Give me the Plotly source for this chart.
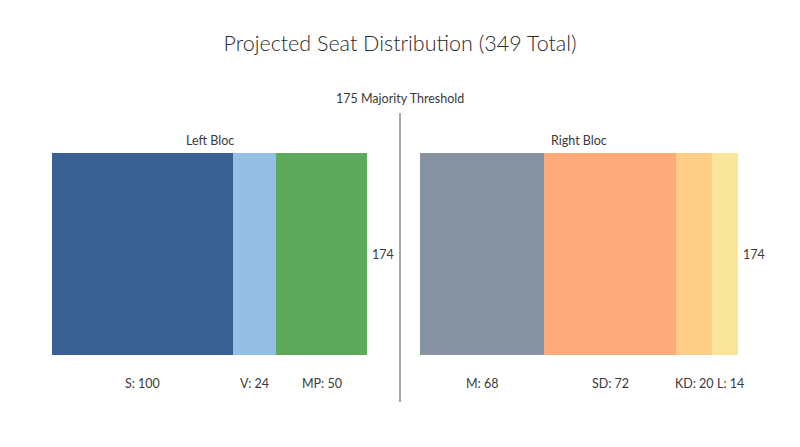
import plotly.graph_objects as go

W, H = 800, 447
OFF = 8  # page body margin added by write_html

left_parties = ["S", "V", "MP"]
left_seats = [100, 24, 50]
left_colors = ["#395f93", "#95c0e4", "#5ea95c"]

right_parties = ["M", "SD", "KD", "L"]
right_seats = [68, 72, 20, 14]
right_colors = ["#8792a3", "#fdaa7a", "#fecd86", "#f9e69b"]

majority = 175
total = 349
font = "Lato"
txt_color = "#3a3a3a"


def px_x(p):
    return (p - OFF) / W


def px_y(p):
    return 1 - (p - OFF) / H


def txt(size=12, color=txt_color, weight=400):
    return dict(size=size, color=color, family=font, weight=weight)


fig = go.Figure()


def add_bloc(parties, seats, colors, xaxis):
    base = 0
    for i, (name, val, col) in enumerate(zip(parties, seats, colors)):
        fig.add_trace(go.Bar(
            x=[base + val / 2], y=[sum(seats)], width=[val],
            marker=dict(color=col, line=dict(width=0)),
            xaxis=xaxis, yaxis="y", hoverinfo="skip", showlegend=False,
        ))
        # nudge the last, narrow label so it doesn't touch its neighbour
        shift = 5 if (i == len(seats) - 1 and val < 20) else 0
        fig.add_annotation(
            x=base + val / 2, y=px_y(383), xref=xaxis, yref="paper",
            xanchor="center", yanchor="middle", xshift=shift,
            text=f"{name}: {val}", showarrow=False, font=txt(12.5),
        )
        base += val
    # total label to the right
    fig.add_annotation(
        x=base, y=sum(seats) / 2, xref=xaxis, yref="y",
        text=str(sum(seats)), showarrow=False, xanchor="left", yanchor="middle",
        xshift=3, font=txt(12.5),
    )
    return base


add_bloc(left_parties, left_seats, left_colors, "x")
add_bloc(right_parties, right_seats, right_colors, "x2")

ax = dict(showgrid=False, zeroline=False, showticklabels=False, fixedrange=True)
fig.update_layout(
    width=W, height=H,
    margin=dict(l=0, r=0, t=0, b=0),
    paper_bgcolor="white", plot_bgcolor="white",
    barmode="overlay", bargap=0,
    font=dict(family=font, color=txt_color),
    title=dict(text=f"Projected Seat Distribution ({total} Total)",
               x=px_x(400), xanchor="center", y=px_y(43), yanchor="middle",
               font=txt(21.5, "#2a2a2a", 300)),
    xaxis=dict(domain=[px_x(52), px_x(367)], range=[0, sum(left_seats)], **ax),
    xaxis2=dict(domain=[px_x(420), px_x(738)], range=[0, sum(right_seats)], anchor="y", **ax),
    yaxis=dict(domain=[px_y(355), px_y(153)], range=[0, sum(left_seats)], **ax),
)

for label, cx in [("Left Bloc", 209.5), ("Right Bloc", 579)]:
    fig.add_annotation(x=px_x(cx), y=px_y(140), xref="paper", yref="paper",
                       xanchor="center", yanchor="middle",
                       text=label, showarrow=False, font=txt(12.5))
fig.add_annotation(x=px_x(400), y=px_y(99), xref="paper", yref="paper",
                   xanchor="center", yanchor="middle",
                   text=f"{majority} Majority Threshold", showarrow=False,
                   font=txt(12.5))

# majority divider
fig.add_shape(type="line", xref="paper", yref="paper",
              x0=px_x(400), x1=px_x(400), y0=px_y(113), y1=px_y(402),
              line=dict(color="#a8a8a8", width=2))

fig.write_html("out.html")
